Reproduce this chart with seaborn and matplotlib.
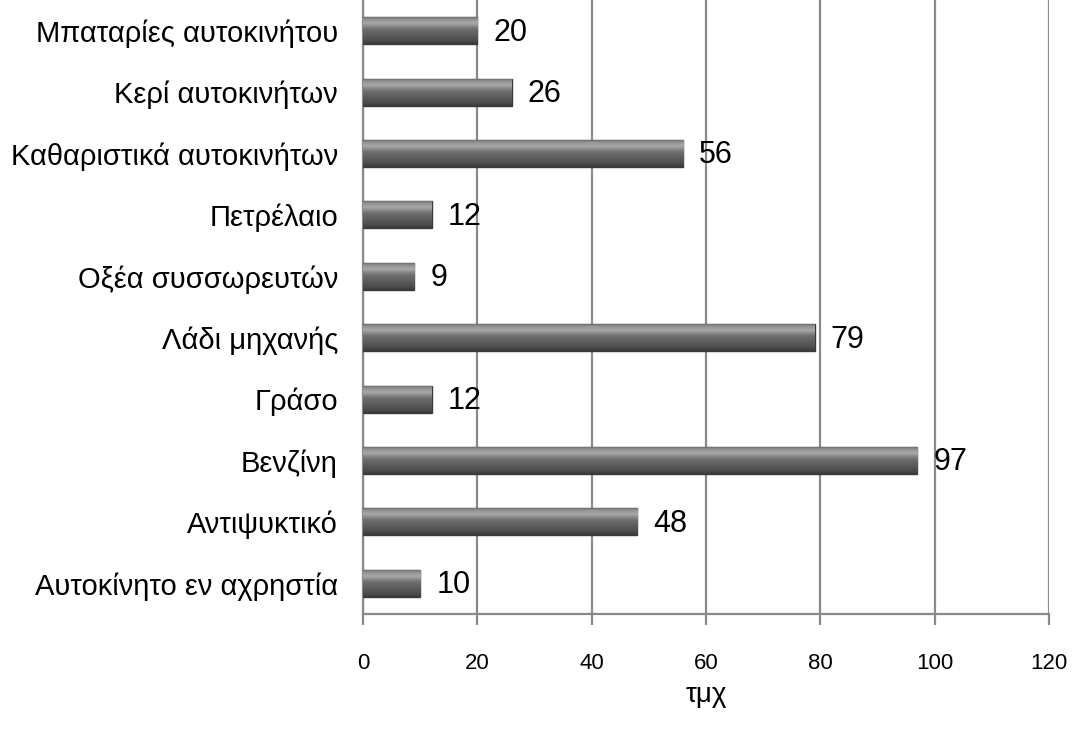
import numpy as np
import pandas as pd
import matplotlib
matplotlib.use("Agg")
import matplotlib.pyplot as plt
from matplotlib.colors import LinearSegmentedColormap
import seaborn as sns

categories = [
    "Μπαταρίες αυτοκινήτου",
    "Κερί αυτοκινήτων",
    "Καθαριστικά αυτοκινήτων",
    "Πετρέλαιο",
    "Οξέα συσσωρευτών",
    "Λάδι μηχανής",
    "Γράσο",
    "Βενζίνη",
    "Αντιψυκτικό",
    "Αυτοκίνητο εν αχρηστία",
]
values = [20, 26, 56, 12, 9, 79, 12, 97, 48, 10]
x_ticks = [0, 20, 40, 60, 80, 100, 120]
x_label = "τμχ"

sns.set_theme(style="white")
plt.rcParams["font.family"] = ["Liberation Sans", "DejaVu Sans"]

df = pd.DataFrame({"category": categories, "value": values})

fig = plt.figure(figsize=(10.73, 7.34), dpi=100)
ax = fig.add_axes([0.3383, 0.1635, 0.6393, 0.8365])

sns.barplot(data=df, y="category", x="value", orient="h", color="#5a5a5a",
            width=0.44, edgecolor="#3a3a3a", linewidth=1.0, ax=ax, zorder=3)

# cylinder-like shading inside each bar (row 0 = top edge of the bar)
shade = LinearSegmentedColormap.from_list(
    "shade",
    [(0.0, "#606060"), (0.1, "#909090"), (0.25, "#aaaaaa"), (0.45, "#707070"),
     (0.7, "#5a5a5a"), (0.9, "#4a4a4a"), (1.0, "#3a3a3a")],
)
grad = np.linspace(0, 1, 64).reshape(-1, 1)
for patch in ax.patches:
    x0, y0 = patch.get_x(), patch.get_y()
    w, h = patch.get_width(), patch.get_height()
    im = ax.imshow(grad, cmap=shade, aspect="auto", interpolation="bicubic",
                   extent=(x0, x0 + w, y0 + h, y0), origin="upper", zorder=3.5)
    im.set_clip_path(patch)

for i, v in enumerate(values):
    ax.text(v + 2.8, i + 0.03, f"{v}", va="center", ha="left", fontsize=22,
            color="black", zorder=5)

ax.set_xlim(0, 120)
ax.set_ylim(len(categories) - 0.5, -0.5)
ax.set_xticks(x_ticks)
ax.set_xticklabels([str(t) for t in x_ticks], fontsize=16)
ax.tick_params(axis="x", length=8, width=1.6, color="#8a8a8a", direction="out",
               pad=20, bottom=True, labelcolor="black")
ax.tick_params(axis="y", length=0, pad=18, labelsize=21, labelcolor="black")
ax.grid(axis="x", color="#8a8a8a", linewidth=1.6, zorder=0)
ax.set_axisbelow(True)
for side in ["top", "right"]:
    ax.spines[side].set_visible(False)
for side in ["left", "bottom"]:
    ax.spines[side].set_color("#8a8a8a")
    ax.spines[side].set_linewidth(1.6)
ax.set_ylabel("")
ax.set_xlabel(x_label, fontsize=20, labelpad=6, color="black")

fig.savefig("out.png", dpi=100, facecolor="white")
